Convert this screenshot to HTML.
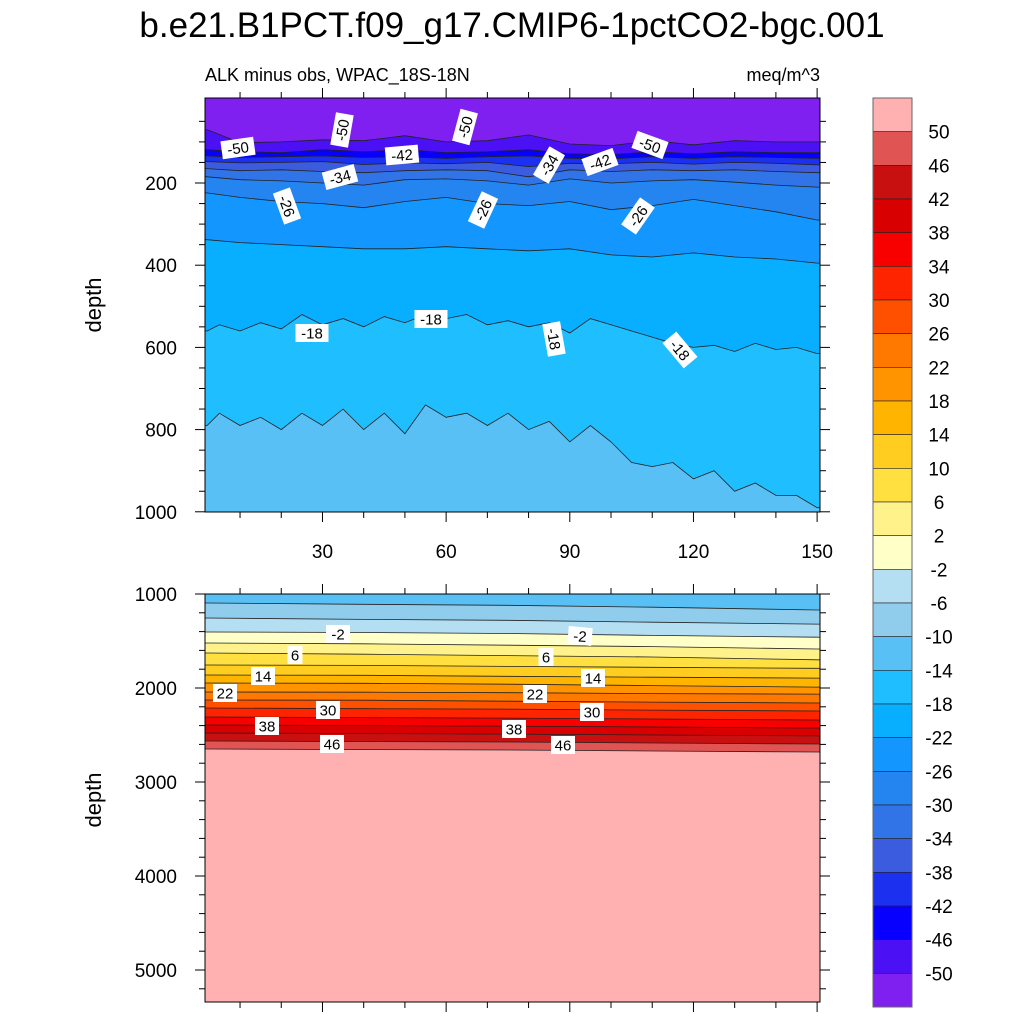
<!DOCTYPE html>
<html><head><meta charset="utf-8">
<style>
body{margin:0;background:#fff;}
svg text{font-family:"Liberation Sans",sans-serif;fill:#000;}
</style></head>
<body>
<svg id="chart" width="1024" height="1024" xmlns="http://www.w3.org/2000/svg">
<text x="512" y="37" font-size="35" text-anchor="middle">b.e21.B1PCT.f09_g17.CMIP6-1pctCO2-bgc.001</text>
<text x="205" y="81" font-size="18">ALK minus obs, WPAC_18S-18N</text>
<text x="820" y="81" font-size="18" text-anchor="end">meq/m^3</text>
<text transform="translate(101,305) rotate(-90)" font-size="22" text-anchor="middle">depth</text>
<text transform="translate(101,800) rotate(-90)" font-size="22" text-anchor="middle">depth</text>
<g id="topPanel"></g>
<g id="botPanel"></g>
<g id="cbar"></g>
</svg>
<script>
const levels=[-50,-46,-42,-38,-34,-30,-26,-22,-18,-14,-10,-6,-2,2,6,10,14,18,22,26,30,34,38,42,46,50];
const colors=["#8020F0","#4C10F4","#0800FF","#1C30F0","#3C5CE0","#3074E8","#2484F0","#1496FF","#08AEFF","#1EBEFF","#58C0F4","#90CCEC","#B4DEF2","#FFFFC8","#FFF28A","#FFE040","#FFCC20","#FFB400","#FF9400","#FF7800","#FF5000","#FF2400","#F80000","#D80000","#C81010","#E05454","#FFB0B0"];
const xCoarse=[2,10,20,30,40,50,60,70,80,90,100,110,120,130,140,150];
const xFine=[2,5,10,15,20,25,30,35,40,45,50,55,60,65,70,75,80,85,90,95,100,105,110,115,120,125,130,135,140,145,150];
const xBot=[2,40,75,110,150];
const topLevels=[-50,-46,-42,-38,-34,-30,-26,-22,-18,-14];
const topDepthM50=[70,102,100,95,97,85,100,97,83,105,109,97,107,97,100,100];
const topDepthM46=[119,124,126,119,124,119,126,124,119,129,131,124,129,124,126,126];
const topDepthM42=[134,138,136,134,138,136,140,136,134,140,141,136,140,136,138,140];
const topDepthM38=[148,151,150,148,155,151,153,150,160,152,153,150,154,150,152,156];
const topDepthM34=[165,170,168,172,175,170,168,170,185,168,172,168,170,168,172,175];
const topDepthM30=[185,192,195,200,205,192,190,195,205,190,200,195,192,198,205,210];
const topDepthM26=[224,235,245,250,260,245,235,250,255,245,265,255,240,255,270,290];
const topDepthM22=[338,345,350,355,360,360,355,360,365,360,375,380,370,380,385,395];
const topDepthM18=[560,545,560,540,555,520,545,530,550,525,540,520,530,520,545,535,550,540,565,530,545,560,575,590,600,595,610,590,605,600,615];
const topDepthM14=[790,760,790,770,800,760,790,750,800,760,810,740,770,760,790,760,800,780,830,790,830,880,890,880,920,900,950,930,960,960,990];
const botLevels=[-10,-6,-2,2,6,10,14,18,22,26,30,34,38,42,46,50];
const botDepths=[
[1096,1110,1120,1140,1170],[1255,1270,1280,1300,1320],[1404,1410,1420,1440,1460],
[1521,1530,1545,1560,1585],[1628,1640,1655,1670,1700],[1755,1760,1770,1780,1790],
[1862,1865,1875,1885,1895],[1947,1950,1960,1975,1990],[2043,2045,2050,2060,2065],
[2128,2130,2140,2150,2160],[2213,2220,2225,2235,2245],[2309,2315,2320,2330,2340],
[2394,2400,2405,2415,2425],[2479,2485,2490,2500,2510],[2564,2570,2575,2585,2596],
[2649,2655,2660,2670,2681]];
const topXs=[xCoarse,xCoarse,xCoarse,xCoarse,xCoarse,xCoarse,xCoarse,xCoarse,xFine,xFine];
const topDs=[topDepthM50,topDepthM46,topDepthM42,topDepthM38,topDepthM34,topDepthM30,topDepthM26,topDepthM22,topDepthM18,topDepthM14];
const yTicksTop=[200,400,600,800,1000];
const yTicksBot=[1000,2000,3000,4000,5000];
const xTicks=[30,60,90,120,150];

const NS="http://www.w3.org/2000/svg";
function mk(p,t,a){const e=document.createElementNS(NS,t);for(const k in a)e.setAttribute(k,a[k]);p.appendChild(e);return e;}
const L=205,R=820;
function sx(x){return L+(x-1.5)*(R-L)/(150.7-1.5);}
const T1=98,B1=512; function sy1(d){return 100.8+d*0.411;}
const T2=594,B2=1002; function sy2(d){return 594+(d-1000)*0.094;}

function panel(g,y0,y1,sy,lvls,xs,ds,bgIdx,nm){
  const clipId=nm+'-clip';
  const cp=mk(g,'clipPath',{id:clipId});mk(cp,'rect',{x:L,y:y0,width:R-L,height:y1-y0});
  const cg=mk(g,'g',{'clip-path':'url(#'+clipId+')'});
  const bg=mk(cg,'rect',{x:L,y:y0,width:R-L,height:y1-y0,fill:colors[bgIdx]});
  
  
  lvls.forEach((lv,i)=>{
    const xa=xs[i],da=ds[i];
    let pts=xa.map((x,j)=>sx(x).toFixed(1)+','+sy(da[j]).toFixed(1));
    const first=xa[0],last=xa[xa.length-1];
    const poly=[sx(first-2)+','+sy(da[0]),...pts,sx(last+2)+','+sy(da[da.length-1]),sx(last+2)+','+(y1+5),sx(first-2)+','+(y1+5)];
    const ci=levels.indexOf(lv)+1;
    const f=mk(cg,'polygon',{points:poly.join(' '),fill:colors[ci]});
    
    
  });
  lvls.forEach((lv,i)=>{
    const xa=xs[i],da=ds[i];
    const pts=[sx(xa[0]-2)+','+sy(da[0]),...xa.map((x,j)=>sx(x).toFixed(1)+','+sy(da[j]).toFixed(1)),sx(xa[xa.length-1]+2)+','+sy(da[da.length-1])];
    const l=mk(cg,'polyline',{points:pts.join(' '),fill:'none',stroke:'#222',"stroke-width":0.8});
    
    
  });
  const fr=mk(g,'rect',{x:L,y:y0,width:R-L,height:y1-y0,fill:'none',stroke:'#000',"stroke-width":1});
  
  
}
function lab(g,x,y,t,rot){
  const gg=mk(g,'g',{transform:`translate(${x},${y}) rotate(${rot})`});
  
  
  const w=t.length*9+6;
  mk(gg,'rect',{x:-w/2,y:-9,width:w,height:18,fill:'#fff'});
  const tx=mk(gg,'text',{x:0,y:5.5,'font-size':15,'text-anchor':'middle'});tx.textContent=t;
}
const topG=document.getElementById('topPanel'),botG=document.getElementById('botPanel');
panel(topG,T1,B1,sy1,topLevels,topXs,topDs,0,'top-panel');
panel(botG,T2,B2,sy2,botLevels,botLevels.map(()=>xBot),botDepths,10,'bottom-panel');

[[238,148,'-50',-8],[342,130,'-50',-80],[465,127,'-50',-75],[650,145,'-50',20],[402,155,'-42',-5],[600,162,'-42',-20],[340,177,'-34',-15],[549,165,'-34',-60],[287,206,'-26',70],[483,210,'-26',-65],[638,216,'-26',-55],[312,333,'-18',0],[431,319,'-18',0],[554,339,'-18',80],[680,350,'-18',50]].forEach(a=>lab(topG,a[0],a[1],a[2],a[3]));
[[338,634,'-2',0],[580,636,'-2',5],[295,655,'6',0],[546,657,'6',0],[263,676,'14',0],[593,678,'14',0],[225,693,'22',0],[535,694,'22',0],[328,710,'30',0],[592,712,'30',0],[267,726,'38',0],[514,729,'38',0],[332,744,'46',0],[563,745,'46',0]].forEach(a=>lab(botG,a[0],a[1],a[2],a[3]));

function ticks(g,y0,y1,sy,yMaj,yMinStep,yMin,yMax,showX,showY,nm){
  const tg=mk(g,'g',{stroke:'#000','stroke-width':1});
  
  
  for(let x=10;x<=150;x+=10){const px=sx(x),len=(x%30===0)?10:6;
    mk(tg,'line',{x1:px,y1:y0,x2:px,y2:y0-len});mk(tg,'line',{x1:px,y1:y1,x2:px,y2:y1+len});}
  for(let d=yMin;d<=yMax;d+=yMinStep){const py=sy(d);if(py<y0-0.5||py>y1+0.5)continue;
    const len=yMaj.includes(d)?10:6;
    mk(tg,'line',{x1:L,y1:py,x2:L-len,y2:py});mk(tg,'line',{x1:R,y1:py,x2:R+len,y2:py});}
  if(showY)yMaj.forEach(d=>{const t=mk(g,'text',{x:177,y:sy(d)+7,'font-size':19,'text-anchor':'end'});t.textContent=d;
    
    });
  if(showX)xTicks.forEach(x=>{const t=mk(g,'text',{x:sx(x),y:y1+46,'font-size':19,'text-anchor':'middle'});t.textContent=x;
    
    });
}
ticks(topG,T1,B1,sy1,yTicksTop,50,50,1000,true,true,'top-panel');
ticks(botG,T2,B2,sy2,yTicksBot,200,1000,5400,false,true,'bottom-panel');

const cb=document.getElementById('cbar');
const cx=873,cw=39,ct=98,cbt=1007,bh=(cbt-ct)/colors.length;
colors.slice().reverse().forEach((c,i)=>{
  const r=mk(cb,'rect',{x:cx,y:ct+i*bh,width:cw,height:bh,fill:c,stroke:'#222','stroke-width':0.6});
  
  
});
mk(cb,'rect',{x:cx,y:ct,width:cw,height:cbt-ct,fill:'none',stroke:'#666','stroke-width':1});
levels.slice().reverse().forEach((lv,i)=>{
  const t=mk(cb,'text',{x:939,y:ct+(i+1)*bh+7,'font-size':19,'text-anchor':'middle'});t.textContent=lv;
  
  
});
</script>
</body></html>
